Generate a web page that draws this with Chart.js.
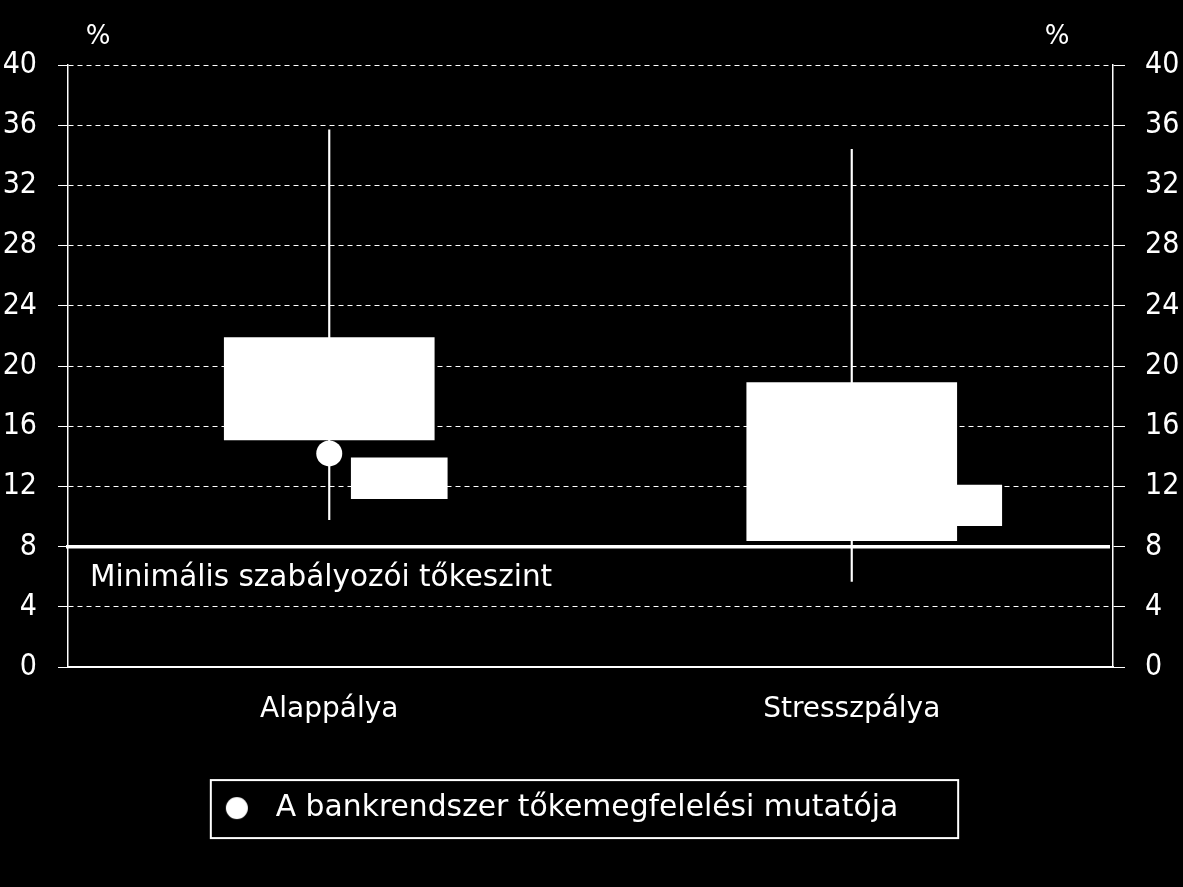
<!DOCTYPE html>
<html><head><meta charset="utf-8">
<script src="https://cdn.jsdelivr.net/npm/chart.js@4.4.1/dist/chart.umd.min.js"></script>
<style>html,body{margin:0;padding:0;background:#000;overflow:hidden}#wrap{width:1183px;height:887px;position:relative}</style>
</head><body><div id="wrap"><canvas id="c"></canvas></div>
<script>
// ---- data ----
const categories = ['Alappálya', 'Stresszpálya'];
const whiskerLow = [9.8, 5.7];
const whiskerHigh = [35.7, 34.4];
const boxLow = [15.1, 8.4];
const boxHigh = [21.9, 18.9];
const smallBoxLow = [11.2, 9.4];
const smallBoxHigh = [13.9, 12.1];
const bankCAR = [14.2, 13.0];
const minCapital = 8;
const yTickValues = [0, 4, 8, 12, 16, 20, 24, 28, 32, 36, 40];
const carLabel = 'A bankrendszer tőkemegfelelési mutatója';
const minCapitalLabel = 'Minimális szabályozói tőkeszint';
const unitLabel = '%';

// ---- styling ----
const WHITE = '#ffffff';
const TEXT_FONT = 'DejaVu Sans';
const TICK_FONT = 'DejaVu Sans Condensed';
const SMALL_BOX_SHIFT = [70, 102];
const LEGEND_RIGHT_INSET = 62;

Chart.defaults.font.family = TEXT_FONT;
Chart.defaults.color = WHITE;

// legend marker: circle drawn on a small canvas
const legendDot = document.createElement('canvas');
legendDot.width = 38; legendDot.height = 26;
(function(){ const g = legendDot.getContext('2d'); g.fillStyle = WHITE; g.beginPath(); g.arc(14, 13, 11, 0, Math.PI*2); g.fill(); })();

const shiftPlugin = {
  id: 'shiftSmall',
  afterLayout(chart){
    if (chart.legend) { chart.legend.right -= LEGEND_RIGHT_INSET; chart.legend.width -= LEGEND_RIGHT_INSET; }
  },
  afterDatasetsUpdate(chart){
    const meta = chart.getDatasetMeta(1);
    meta.data.forEach((el, i) => { el.x += SMALL_BOX_SHIFT[i]; });
  }
};

const decorPlugin = {
  id: 'decor',
  afterDatasetsDraw(chart){
    const {ctx, chartArea, scales} = chart;
    const y = scales.y.getPixelForValue(minCapital);
    ctx.save();
    ctx.strokeStyle = WHITE; ctx.lineWidth = 3.5;
    ctx.beginPath(); ctx.moveTo(chartArea.left - 2, y); ctx.lineTo(chartArea.right - 3, y); ctx.stroke();
    ctx.fillStyle = WHITE;
    ctx.font = '29.5px "' + TEXT_FONT + '"';
    ctx.textBaseline = 'alphabetic'; ctx.textAlign = 'left';
    ctx.fillText(minCapitalLabel, chartArea.left + 22, y + 39);
    ctx.font = '26px "' + TEXT_FONT + '"';
    ctx.textAlign = 'center';
    ctx.fillText(unitLabel, chartArea.left + 30, chartArea.top - 21);
    ctx.fillText(unitLabel, chartArea.right - 56, chartArea.top - 21);
    ctx.restore();
  },
  afterDraw(chart){
    const lg = chart.legend;
    if (!lg || !lg.legendHitBoxes || !lg.legendHitBoxes.length) return;
    const hb = lg.legendHitBoxes[0];
    const cy = hb.top + hb.height / 2 + 1;
    const ctx = chart.ctx;
    ctx.save();
    ctx.strokeStyle = WHITE; ctx.lineWidth = 2;
    ctx.strokeRect(hb.left - 12, cy - 29, hb.width + 72, 58);
    ctx.restore();
  }
};

const rangeData = (lo, hi) => categories.map((c, i) => [lo[i], hi[i]]);

new Chart(document.getElementById('c'), {
  type: 'bar',
  data: {
    labels: categories,
    datasets: [
      { label: 'whisker', data: rangeData(whiskerLow, whiskerHigh), backgroundColor: WHITE, barThickness: 1.5, grouped: false, order: 4 },
      { label: 'small', data: rangeData(smallBoxLow, smallBoxHigh), backgroundColor: WHITE, barThickness: 96, grouped: false, order: 3 },
      { label: 'box', data: rangeData(boxLow, boxHigh), backgroundColor: WHITE, barThickness: 210, grouped: false, order: 2 },
      { type: 'line', label: carLabel, data: bankCAR, showLine: false, pointRadius: 13, pointHoverRadius: 13,
        pointBackgroundColor: WHITE, pointBorderWidth: 0, pointStyle: 'circle', order: 1 }
    ]
  },
  options: {
    responsive: true, maintainAspectRatio: false, animation: false,
    layout: { padding: { top: 65, right: 0, bottom: 54, left: 0 } },
    plugins: {
      tooltip: { enabled: false },
      legend: {
        position: 'bottom',
        labels: {
          color: WHITE, font: { size: 29.8, family: TEXT_FONT }, padding: 10,
          usePointStyle: true, pointStyle: legendDot, pointStyleWidth: 38,
          filter: (item) => item.datasetIndex === 3
        }
      }
    },
    scales: {
      x: {
        type: 'category',
        grid: { display: false, drawTicks: false },
        border: { display: true, color: WHITE, width: 2 },
        ticks: { color: WHITE, font: { size: 28, family: TEXT_FONT }, padding: 26 },
        afterFit(s){ s.height = 116; }
      },
      y: {
        position: 'left', min: 0, max: 40,
        afterBuildTicks(s){ s.ticks = yTickValues.map(v => ({ value: v })); },
        ticks: { color: WHITE, font: { size: 30, family: TICK_FONT }, padding: 21 },
        grid: { color: WHITE, lineWidth: 1, tickLength: 10, borderDash: [5, 4], tickBorderDash: [] },
        border: { display: true, color: WHITE, width: 1.5, dash: [5, 4] },
        afterFit(s){ s.width = 68; }
      },
      y2: {
        position: 'right', min: 0, max: 40,
        afterBuildTicks(s){ s.ticks = yTickValues.map(v => ({ value: v })); },
        ticks: { color: WHITE, font: { size: 30, family: TICK_FONT }, padding: 20 },
        grid: { drawOnChartArea: false, color: WHITE, tickLength: 12 },
        border: { display: true, color: WHITE, width: 1.5 },
        afterFit(s){ s.width = 70; }
      }
    }
  },
  plugins: [shiftPlugin, decorPlugin]
});
</script>
</body></html>
